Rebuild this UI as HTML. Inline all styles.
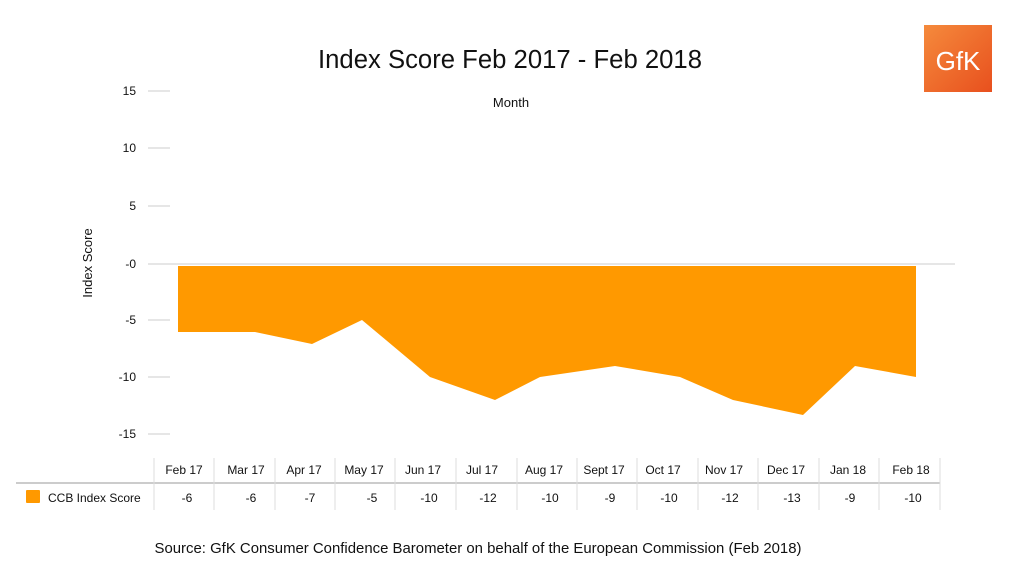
<!DOCTYPE html>
<html><head><meta charset="utf-8"><style>
body{margin:0;background:#fff;width:1024px;height:571px;overflow:hidden;font-family:"Liberation Sans",Arial,sans-serif}
</style></head><body>
<svg width="1024" height="571" viewBox="0 0 1024 571" xmlns="http://www.w3.org/2000/svg" font-family="Liberation Sans, Arial, sans-serif">
<rect width="1024" height="571" fill="#fff"/>
<text x="510" y="68" font-size="25.5" text-anchor="middle" fill="#111" textLength="384" lengthAdjust="spacingAndGlyphs">Index Score Feb 2017 - Feb 2018</text>
<text x="511" y="107" font-size="13" text-anchor="middle" fill="#111">Month</text>
<defs><linearGradient id="g" x1="0" y1="0" x2="1" y2="1"><stop offset="0" stop-color="#f58a3c"/><stop offset="1" stop-color="#e8501e"/></linearGradient></defs>
<rect x="924" y="25" width="68" height="67" fill="url(#g)"/>
<text x="958" y="70" font-size="26" text-anchor="middle" fill="#fff">GfK</text>
<g stroke="#ccc" stroke-width="1">
<line x1="148" y1="91" x2="170" y2="91"/><line x1="148" y1="148" x2="170" y2="148"/>
<line x1="148" y1="206" x2="170" y2="206"/><line x1="148" y1="264" x2="955" y2="264"/>
<line x1="148" y1="320" x2="170" y2="320"/><line x1="148" y1="377" x2="170" y2="377"/>
<line x1="148" y1="434" x2="170" y2="434"/>
</g>
<g font-size="12" text-anchor="end" fill="#111">
<text x="136" y="95">15</text><text x="136" y="152">10</text><text x="136" y="210">5</text>
<text x="136" y="268">-0</text><text x="136" y="324">-5</text><text x="136" y="381">-10</text><text x="136" y="438">-15</text>
</g>
<text transform="translate(92,263) rotate(-90)" font-size="13" text-anchor="middle" fill="#111">Index Score</text>
<polygon fill="#ff9900" points="178,266 916,266 916,377 855,366 803,415 733,400 680,377 615,366 540,377 495,400 430,377 362,320 312,344 255,332 178,332"/>
<line x1="16" y1="483" x2="940" y2="483" stroke="#ccc" stroke-width="2"/>
<g stroke="#ddd">
<line x1="154" y1="458" x2="154" y2="510"/><line x1="214" y1="458" x2="214" y2="510"/><line x1="275" y1="458" x2="275" y2="510"/><line x1="335" y1="458" x2="335" y2="510"/><line x1="395" y1="458" x2="395" y2="510"/><line x1="456" y1="458" x2="456" y2="510"/><line x1="517" y1="458" x2="517" y2="510"/><line x1="577" y1="458" x2="577" y2="510"/><line x1="637" y1="458" x2="637" y2="510"/><line x1="698" y1="458" x2="698" y2="510"/><line x1="758" y1="458" x2="758" y2="510"/><line x1="819" y1="458" x2="819" y2="510"/><line x1="879" y1="458" x2="879" y2="510"/><line x1="940" y1="458" x2="940" y2="510"/>
</g>
<g font-size="12" text-anchor="middle" fill="#111">
<text x="184" y="474">Feb 17</text><text x="246" y="474">Mar 17</text><text x="304" y="474">Apr 17</text><text x="364" y="474">May 17</text><text x="423" y="474">Jun 17</text><text x="482" y="474">Jul 17</text><text x="544" y="474">Aug 17</text><text x="604" y="474">Sept 17</text><text x="663" y="474">Oct 17</text><text x="724" y="474">Nov 17</text><text x="786" y="474">Dec 17</text><text x="848" y="474">Jan 18</text><text x="911" y="474">Feb 18</text>
<text x="187" y="502">-6</text><text x="251" y="502">-6</text><text x="310" y="502">-7</text><text x="372" y="502">-5</text><text x="429" y="502">-10</text><text x="488" y="502">-12</text><text x="550" y="502">-10</text><text x="610" y="502">-9</text><text x="669" y="502">-10</text><text x="730" y="502">-12</text><text x="792" y="502">-13</text><text x="850" y="502">-9</text><text x="913" y="502">-10</text>
</g>
<rect x="26" y="490" width="14" height="13" fill="#ff9900" rx="1"/>
<text x="48" y="502" font-size="12" fill="#111">CCB Index Score</text>
<text x="478" y="553" font-size="14.5" text-anchor="middle" fill="#111" textLength="647" lengthAdjust="spacingAndGlyphs">Source: GfK Consumer Confidence Barometer on behalf of the European Commission (Feb 2018)</text>
</svg>
</body></html>
